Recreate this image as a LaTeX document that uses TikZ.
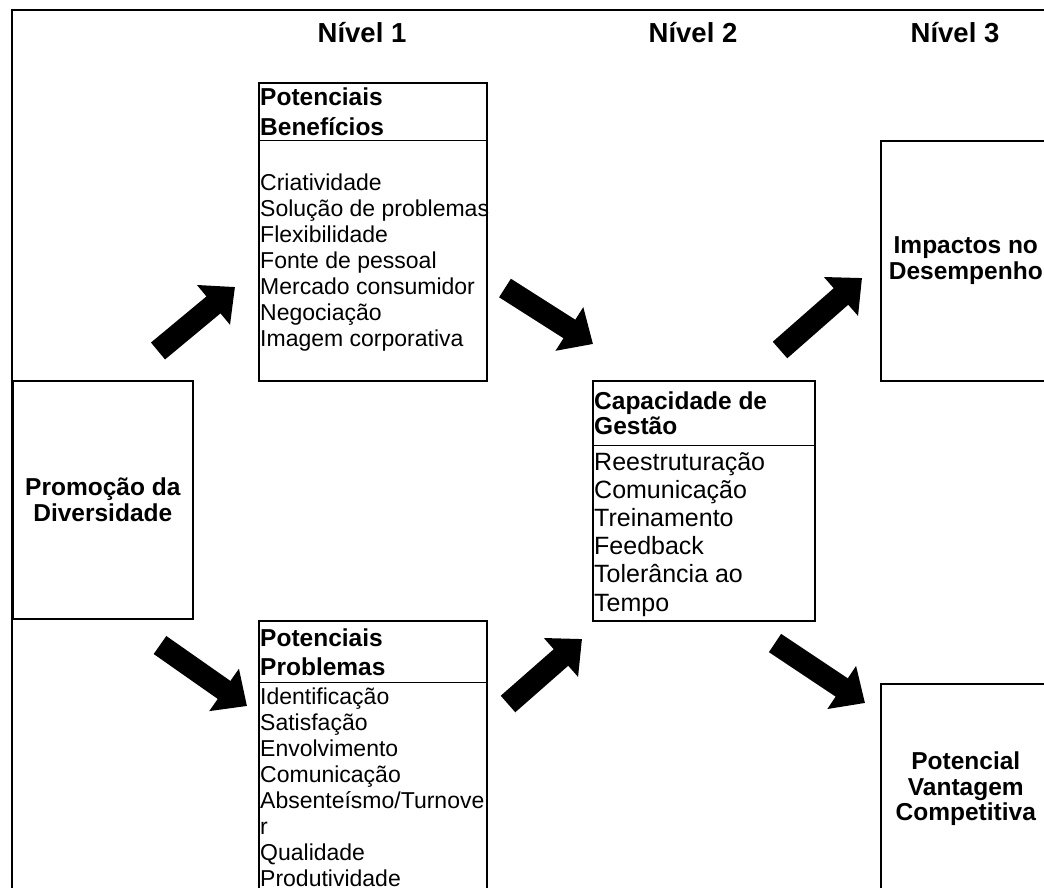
\documentclass[tikz,border=0pt]{standalone}
\usepackage{fontspec}
\setmainfont{Liberation Sans}
\usetikzlibrary{arrows.meta}

\tikzstyle{frame}=[draw, line width=1.3pt]
\tikzstyle{box}=[draw, line width=1.6pt, anchor=north west, inner sep=0pt]
\tikzstyle{rule}=[draw, line width=0.9pt]
\tikzstyle{levelhead}=[font=\fontsize{27.5}{30}\selectfont\bfseries]
\tikzstyle{title}=[align=center, font=\fontsize{24.5}{25.5}\selectfont\bfseries]
\tikzstyle{head}=[anchor=north west, align=left, inner sep=0pt, font=\fontsize{24.5}{29}\selectfont\bfseries]
\tikzstyle{items}=[anchor=north west, align=left, inner sep=0pt, font=\fontsize{23}{26}\selectfont]
\tikzstyle{bigarrow}=[draw, line width=22pt, -{Triangle[width=50pt,length=28pt]}]

\begin{document}
\begin{tikzpicture}[x=1pt, y=-1pt]
	\useasboundingbox (0,0) rectangle (1044,888);
	\clip (0,0) rectangle (1044,888);
	\draw[frame] (12,10) rectangle (1100,1000);
	% level headings
	\node[levelhead] (lev1) at (362,33) {Nível 1};
	\node[levelhead] (lev2) at (693,33) {Nível 2};
	\node[levelhead] (lev3) at (955,33) {Nível 3};
	% boxes
	\node[box, title, minimum width=180pt, minimum height=238pt] (promo) at (12,380) {Promoção da\\Diversidade};
	\node[box, minimum width=228pt, minimum height=298pt] (benef) at (258,82) {};
	\node[box, minimum width=228pt, minimum height=300pt] (probl) at (258,620) {};
	\node[box, minimum width=222pt, minimum height=240pt] (gestao) at (592,380) {};
	\node[box, title, minimum width=170pt, minimum height=240pt] (impact) at (880,140) {Impactos no\\Desempenho};
	\node[box, title, minimum width=170pt, minimum height=210pt] (vantag) at (880,683) {Potencial\\Vantagem\\Competitiva};
	\draw[rule] ([yshift=-58pt]benef.north west) -- ([yshift=-58pt]benef.north east);
	\draw[rule] ([yshift=-62pt]probl.north west) -- ([yshift=-62pt]probl.north east);
	\draw[rule] ([yshift=-65pt]gestao.north west) -- ([yshift=-65pt]gestao.north east);
	% box texts
	\node[head] (benefh) at (260,88) {Potenciais\\[1pt]Benefícios};
	\node[items] (benefi) at (260,174) {Criatividade\\Solução de problemas\\Flexibilidade\\Fonte de pessoal\\Mercado consumidor\\Negociação\\Imagem corporativa};
	\node[head] (problh) at (260,629) {Potenciais\\Problemas};
	\node[items] (probli) at (260,688) {Identificação\\Satisfação\\Envolvimento\\Comunicação\\Absenteísmo/Turnove\\r\\Qualidade\\Produtividade};
	\node[head] (gestaoh) at (594,392) {Capacidade de\\[-4pt]Gestão};
	\node[items, font=\fontsize{25}{28.2}\selectfont] (gestaoi) at (594,452) {Reestruturação\\Comunicação\\Treinamento\\Feedback\\Tolerância ao\\Tempo};
	% arrows
	\coordinate (t1) at (158,351);
	\coordinate (h1) at (235,287);
	\coordinate (t2) at (160,645);
	\coordinate (h2) at (247,706);
	\coordinate (t3) at (505,288);
	\coordinate (h3) at (593,344);
	\coordinate (t4) at (508,704);
	\coordinate (h4) at (582,639);
	\coordinate (t5) at (780,350);
	\coordinate (h5) at (862,278);
	\coordinate (t6) at (775,643);
	\coordinate (h6) at (865,703);
	\draw[bigarrow] (t1) -- (h1);
	\draw[bigarrow] (t2) -- (h2);
	\draw[bigarrow] (t3) -- (h3);
	\draw[bigarrow] (t4) -- (h4);
	\draw[bigarrow] (t5) -- (h5);
	\draw[bigarrow] (t6) -- (h6);
\end{tikzpicture}
\end{document}
